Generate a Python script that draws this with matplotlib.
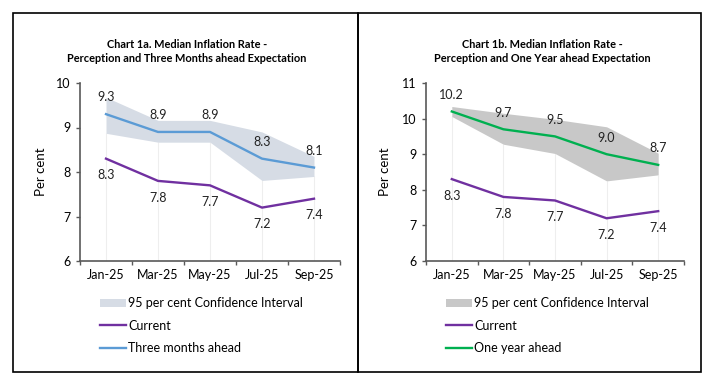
import matplotlib
matplotlib.use("Agg")
import matplotlib.pyplot as plt
from matplotlib.patches import Rectangle, Patch
from matplotlib.lines import Line2D

plt.rcParams['font.family'] = ['Lato', 'DejaVu Sans']

# Data
months = ["Jan-25", "Mar-25", "May-25", "Jul-25", "Sep-25"]
current = [8.3, 7.8, 7.7, 7.2, 7.4]

three_months = [9.3, 8.9, 8.9, 8.3, 8.1]
ci_3m_low = [8.87, 8.67, 8.67, 7.81, 7.90]
ci_3m_high = [9.68, 9.16, 9.16, 8.90, 8.35]

one_year = [10.2, 9.7, 9.5, 9.0, 8.7]
ci_1y_low = [10.06, 9.28, 9.02, 8.25, 8.42]
ci_1y_high = [10.34, 10.15, 9.98, 9.77, 9.03]

W, H = 716, 374
fig = plt.figure(figsize=(W / 100, H / 100), dpi=100)

# panel frames
for x0, x1 in [(13, 358), (358, 701)]:
    fig.patches.append(Rectangle((x0 / W, 2 / H), (x1 - x0) / W, 359 / H,
                                 transform=fig.transFigure, fill=False,
                                 edgecolor="black", linewidth=1.2))

purple = "#7030a0"
axis_col = "#595959"


def panel(left_px, right_px, ylim, ahead, lo, hi, band_col, line_col,
          ahead_label, title1, title2, title_x, ylab_px):
    ax = fig.add_axes([left_px / W, (H - 261) / H, (right_px - left_px) / W, 178 / H])
    x = list(range(len(months)))

    # faint drop lines
    ax.vlines(x, ylim[0], lo, color="#eeeeee", linewidth=0.8, zorder=1)
    ax.fill_between(x, lo, hi, color=band_col, linewidth=0, zorder=2)
    ax.plot(x, current, color=purple, linewidth=1.7, zorder=3)
    ax.plot(x, ahead, color=line_col, linewidth=1.7, zorder=3)

    for xi, v in zip(x, ahead):
        ax.annotate(f"{v:.1f}", (xi, v), xytext=(0, 12), textcoords="offset points",
                    ha="center", va="center", fontsize=9, color="#222222")
    for xi, v in zip(x, current):
        ax.annotate(f"{v:.1f}", (xi, v), xytext=(0, -12), textcoords="offset points",
                    ha="center", va="center", fontsize=9, color="#222222")

    ax.set_xlim(-0.5, len(months) - 0.5)
    ax.set_ylim(*ylim)
    ax.set_yticks(range(ylim[0], ylim[1] + 1))
    ax.set_xticks([i - 0.5 for i in range(len(months) + 1)])
    ax.set_xticklabels([])
    ax.set_xticks(x, minor=True)
    ax.set_xticklabels(months, minor=True)
    ax.tick_params(axis="x", which="major", length=3, width=1, color=axis_col)
    ax.tick_params(axis="x", which="minor", length=0, pad=6, labelsize=9)
    ax.tick_params(axis="y", length=3, width=1, color=axis_col, pad=4, labelsize=9)
    for s in ["top", "right"]:
        ax.spines[s].set_visible(False)
    for s in ["left", "bottom"]:
        ax.spines[s].set_color(axis_col)
        ax.spines[s].set_linewidth(1.2)

    ax.set_ylabel("Per cent", fontsize=9.5)
    ax.yaxis.set_label_coords((ylab_px - left_px) / (right_px - left_px), 0.5)

    fig.text(title_x / W, (H - 44) / H, title1, ha="center", va="center",
             fontsize=7.9, fontweight="bold")
    fig.text(title_x / W, (H - 59) / H, title2, ha="center", va="center",
             fontsize=7.9, fontweight="bold")

    handles = [Patch(facecolor=band_col, edgecolor="none"),
               Line2D([], [], color=purple, linewidth=1.7),
               Line2D([], [], color=line_col, linewidth=1.7)]
    labels = ["95 per cent Confidence Interval", "Current", ahead_label]
    ax.legend(handles, labels, loc="upper left",
              bbox_to_anchor=((left_px + 20) / W, (H - 297) / H),
              bbox_transform=fig.transFigure, frameon=False, fontsize=9,
              borderpad=0, borderaxespad=0, handlelength=2.1, handleheight=0.6,
              handletextpad=0.15, labelspacing=0.85)
    return ax


panel(80, 340, (6, 10), three_months, ci_3m_low, ci_3m_high, "#d6dce5", "#5b9bd5",
      "Three months ahead", "Chart 1a. Median Inflation Rate -",
      "Perception and Three Months ahead Expectation", 187, 47)
panel(426, 684, (6, 11), one_year, ci_1y_low, ci_1y_high, "#c8c8c8", "#00b050",
      "One year ahead", "Chart 1b. Median Inflation Rate -",
      "Perception and One Year ahead Expectation", 542, 391)

fig.savefig("out.png", dpi=100)
